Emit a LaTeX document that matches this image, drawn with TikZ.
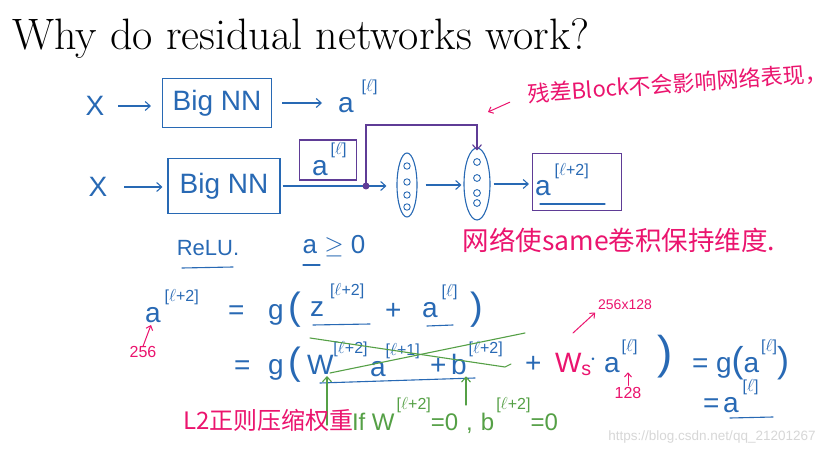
\documentclass[tikz,border=0pt]{standalone}
\usepackage{fontspec}
\usepackage{xcolor}
\usepackage{tikz}
\usetikzlibrary{arrows.meta,shapes.geometric}
\newfontfamily\hand{Liberation Sans}
\newfontfamily\cjk{Noto Sans CJK SC}
\newcommand{\hfs}[1]{\fontsize{#1}{#1}\selectfont}
\newcommand{\hsup}[3][3pt]{#2\hspace{#1}\raisebox{21pt}{\fontsize{16}{16}\selectfont #3}}

\begin{document}
\begin{tikzpicture}[x=1pt,y=1pt,
  hand/.style={text=handBlue,font=\hand\hfs{28},inner sep=0pt,outer sep=0pt},
  handbase/.style={hand,anchor=base west},
  nnbox/.style={draw=handBlue,line width=1.1pt,text=handBlue,font=\hand\hfs{28},inner sep=0pt},
  layer/.style={ellipse,draw=handBlue,line width=1.1pt,inner sep=0pt},
  pbox/.style={draw=handPurple,line width=1.1pt,inner sep=0pt},
  harrow/.style={draw=handBlue,line width=1.1pt,-{Straight Barb[length=5pt,width=9pt]}},
  hline/.style={draw=handBlue,line width=1.1pt,line cap=round},
  note/.style={text=handPink,font=\cjk\hfs{22},inner sep=0pt,outer sep=0pt},
  notearrow/.style={draw=handPink,line width=1pt,line cap=round,-{Straight Barb[length=4pt,width=7pt]}},
  greennote/.style={text=handGreen,font=\hand\hfs{24},inner sep=0pt,outer sep=0pt},
  greenline/.style={draw=handGreen,line width=1.1pt,line cap=round,line join=round},
  greenarrow/.style={greenline,-{Straight Barb[length=5pt,width=9pt]}}]
\definecolor{handBlue}{RGB}{40,105,180}
\definecolor{handPink}{RGB}{235,20,110}
\definecolor{handGreen}{RGB}{85,160,70}
\definecolor{handPurple}{RGB}{95,60,150}
\definecolor{markGray}{RGB}{215,215,215}
\path[use as bounding box,fill=white] (0,0) rectangle (833,456);

\node[anchor=base west,inner sep=0pt,font=\hfs{44}] (title) at (12,406) {Why do residual networks work?};

% plain big network
\node[hand] (x1) at (95,350) {X};
\node[nnbox,minimum width=109pt,minimum height=49pt] (big1) at (217,353) {Big NN};
\node[handbase] (a1) at (338,343) {\hsup[8pt]{a}{[$\ell$]}};
\draw[harrow,shorten <=14pt,shorten >=11pt] (x1.east) -- (x1.east -| big1.west);
\draw[harrow,shorten <=10pt,shorten >=16pt] (big1.east) -- (big1.east -| a1.west);

% big network with a residual block
\node[hand] (x2) at (98,269) {X};
\node[nnbox,minimum width=112pt,minimum height=55pt] (big2) at (224,270) {Big NN};
\node[layer,minimum width=20pt,minimum height=64pt] (l1) at (407,271) {};
\node[layer,minimum width=26pt,minimum height=72pt] (l2) at (477,272) {};
\foreach \dy in {19,3,-10,-22}
  \draw[handBlue,line width=0.9pt] (l1.center) ++(0,\dy) circle (3.2pt);
\foreach \dy in {22,6,-9,-19}
  \draw[handBlue,line width=0.9pt] (l2.center) ++(0,\dy) circle (3.4pt);
\node[pbox,minimum width=57pt,minimum height=40pt] (al) at (328,296) {};
\node[handbase] (alt) at (312,280) {\hsup[3pt]{a}{[$\ell$]}};
\node[pbox,minimum width=89pt,minimum height=57pt] (a2) at (577,274) {};
\node[handbase] (a2t) at (535,260) {\hsup[4pt]{a}{[$\ell$+2]}};
\draw[hline] (540,252) -- (605,252);

\coordinate (skip) at (366,270);
\coordinate (sktop) at (366,331);
\draw[harrow,shorten <=17pt,shorten >=5pt] (x2.east) -- (x2.east -| big2.west);
\draw[harrow,shorten <=2pt,shorten >=10pt] (big2.east) -- (big2.east -| l1.west);
\draw[harrow,draw=handPurple] (skip) -- (sktop) -| ([yshift=-3pt]l2.north);
\fill[handPurple] (skip) circle (3.5pt);
\draw[harrow,shorten <=8pt,shorten >=2pt] (l1.east) -- (l1.east -| l2.west);
\draw[harrow,shorten <=3pt,shorten >=3pt] (l2.east) -- (l2.east -| a2.west);

% notes
\node[note,anchor=west,rotate=4] (note1) at (528,362) {残差Block不会影响网络表现，};
\coordinate (n1tip) at (488,344);
\draw[notearrow,shorten <=20pt] (note1.west) -- (n1tip);
\node[note,font=\cjk\hfs{26.5}] (note2) at (619,216) {网络使same卷积保持维度.};

\node[hand,font=\hand\hfs{22}] (relu) at (208,208) {ReLU.};
\draw[hline] (182,188) -- (233,189);
\node[hand,font=\hand\hfs{26}] (apos) at (334,210) {a $\geq$ 0};
\draw[hline] (303,191) -- (320,191);

% first line of the formula
\node[handbase] (ap2) at (145,134) {\hsup[4pt]{a}{[$\ell$+2]}};
\node[handbase] (eq1) at (228,137) {=};
\node[handbase] (g1) at (268,137) {g\,{\hfs{38}(}};
\node[handbase] (z1) at (310,140) {\hsup[6pt]{z}{[$\ell$+2]}};
\node[handbase] (pl1) at (385,137) {+};
\node[handbase] (al1) at (422,139) {\hsup[4pt]{a}{[$\ell$]}};
\node[handbase] (rp1) at (470,137) {\hfs{38})};
\draw[hline] (313,131) -- (370,132);
\draw[hline] (427,130) -- (453,131);
\node[note,font=\hand\hfs{16}] (n256) at (143,104) {256};
\coordinate (t256) at (151,131);
\draw[notearrow] (n256.north) -- (t256);

% second line of the formula
\node[handbase] (eq2) at (234,82) {=};
\node[handbase] (g2) at (268,82) {g\,{\hfs{38}(}};
\node[handbase] (w1) at (307,82) {\hsup[0pt]{W}{[$\ell$+2]}};
\node[handbase] (a3) at (370,80) {\hsup[0pt]{a}{[$\ell$+1]}};
\node[handbase] (pb) at (430,82) {+\,\hsup[2pt]{b}{[$\ell$+2]}};
\node[handbase] (pl2) at (525,84) {+};
\node[handbase,text=handPink] (ws) at (555,84) {W\textsubscript{s}};
\node[hand] (cdot) at (593,96) {$\cdot$};
\node[handbase] (al2) at (604,84) {\hsup[2pt]{a}{[$\ell$]}};
\node[hand,font=\hand\hfs{46}] (rp2) at (665,99) {)};
\node[handbase] (eq3) at (692,84) {=};
\node[handbase] (g3) at (716,84) {g{\hfs{36}(}\hsup[2pt]{a}{[$\ell$]}{\hfs{36})}};
\node[handbase] (eq4) at (703,44) {=};
\node[handbase] (al4) at (723,44) {\hsup[4pt]{a}{[$\ell$]}};
\draw[hline] (730,38) -- (773,39);
\draw[hline] (320,73) -- (475,78);

\node[note,font=\hand\hfs{14}] (dim) at (625,151) {256x128};
\coordinate (wsarr) at (573,123);
\draw[notearrow,shorten >=4pt] (wsarr) -- (dim.south west);
\node[note,font=\hand\hfs{16}] (n128) at (628,63) {128};
\draw[notearrow,shorten <=2pt] (n128.north) -- (n128.north |- al2.south);

% weights decayed to zero
\draw[greenline] (310,118) -- (505,89) -- (511,92);
\draw[greenline] (330,83) -- (525,123);
\coordinate (gA) at (327,31);
\coordinate (gB) at (466,51);
\draw[greenarrow,shorten >=2pt] (gA) -- (gA |- w1.south);
\draw[greenarrow,shorten >=2pt] (gB) -- (gB |- pb.south);
\node[note,font=\cjk\hfs{24},anchor=west] (l2note) at (183,36) {L2正则压缩权重};
\node[greennote,anchor=base west] (ifz) at (352,26) {If \hsup[2pt]{W}{[$\ell$+2]}=0\hspace{8pt},\hspace{8pt}\hsup[2pt]{b}{[$\ell$+2]}=0};

\node[text=markGray,font=\hand\hfs{13.5},inner sep=0pt] (mark) at (712,19) {https://blog.csdn.net/qq\_21201267};
\end{tikzpicture}
\end{document}
